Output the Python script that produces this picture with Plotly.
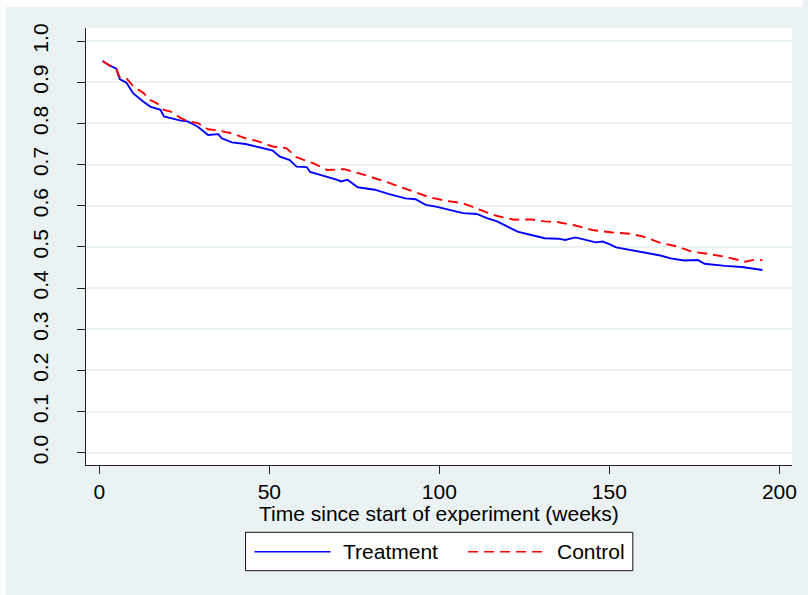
import plotly.graph_objects as go

# Weekly survival proportions by arm
weeks_treatment = [1, 3, 5, 6, 8, 10, 13, 15, 18, 19, 21, 24, 26, 29, 32, 35, 36, 39, 43, 47,
                   51, 53, 56, 58, 61, 62, 65, 70, 71, 73, 76, 81, 85, 90, 93, 96, 99, 103,
                   107, 111, 114, 117, 120, 123, 127, 131, 135, 137, 140, 143, 146, 148, 150,
                   152, 156, 160, 165, 168, 172, 176, 178, 184, 189, 195]
surv_treatment = [0.952, 0.941, 0.933, 0.908, 0.899, 0.873, 0.853, 0.841, 0.833, 0.817, 0.813,
                  0.807, 0.805, 0.792, 0.772, 0.774, 0.764, 0.754, 0.750, 0.742, 0.734, 0.720,
                  0.711, 0.695, 0.694, 0.682, 0.675, 0.663, 0.659, 0.663, 0.645, 0.639, 0.629,
                  0.618, 0.616, 0.602, 0.598, 0.590, 0.582, 0.580, 0.570, 0.562, 0.549, 0.537,
                  0.529, 0.521, 0.520, 0.517, 0.523, 0.517, 0.511, 0.513, 0.507, 0.499, 0.493,
                  0.486, 0.479, 0.472, 0.467, 0.468, 0.459, 0.454, 0.451, 0.444]

weeks_control = [1, 3, 5, 6, 8, 10, 13, 15, 17, 19, 21, 24, 26, 29, 32, 35, 39, 43, 47, 51,
                 55, 58, 63, 67, 72, 78, 84, 88, 93, 97, 102, 107, 112, 117, 122, 127, 131,
                 135, 140, 145, 151, 156, 160, 165, 170, 174, 179, 184, 190, 192, 195]
surv_control = [0.952, 0.941, 0.933, 0.912, 0.910, 0.890, 0.874, 0.857, 0.849, 0.833, 0.829,
                0.813, 0.805, 0.801, 0.786, 0.783, 0.776, 0.764, 0.756, 0.744, 0.740, 0.718,
                0.703, 0.687, 0.689, 0.675, 0.659, 0.647, 0.632, 0.621, 0.612, 0.606, 0.590,
                0.575, 0.566, 0.567, 0.562, 0.560, 0.552, 0.541, 0.535, 0.532, 0.525, 0.510,
                0.501, 0.489, 0.483, 0.476, 0.464, 0.468, 0.468]

x_ticks = [0, 50, 100, 150, 200]
y_ticks = [0.0, 0.1, 0.2, 0.3, 0.4, 0.5, 0.6, 0.7, 0.8, 0.9, 1.0]
y_tick_labels = [f"{v:.1f}" for v in y_ticks]
series_names = ["Treatment", "Control"]
series_colors = ["#0000FF", "#FF0000"]
x_title = "Time since start of experiment (weeks)"

BG = "#EAF2F3"
FONT = "Liberation Sans, Arial, sans-serif"
FS = 21

fig = go.Figure()
fig.add_trace(go.Scatter(x=weeks_treatment, y=surv_treatment, mode="lines",
                         name=series_names[0],
                         line=dict(color=series_colors[0], width=1.9)))
fig.add_trace(go.Scatter(x=weeks_control, y=surv_control, mode="lines",
                         name=series_names[1],
                         line=dict(color=series_colors[1], width=1.9, dash="10px,6px")))

W, H = 808, 595
L, R, T, B = 86, 11, 28, 130
pw, ph = W - L - R, H - T - B


def px_x(px):
    return (px - L) / pw


def px_y(py):
    return (H - B - py) / ph


shapes = [
    # thin white frame at top and left edges of the page
    dict(type="rect", xref="paper", yref="paper", x0=px_x(0), x1=px_x(W), y0=px_y(7), y1=px_y(0),
         fillcolor="white", line=dict(width=0), layer="below"),
    dict(type="rect", xref="paper", yref="paper", x0=px_x(0), x1=px_x(5), y0=px_y(H), y1=px_y(0),
         fillcolor="white", line=dict(width=0), layer="below"),
    # legend box
    dict(type="rect", xref="paper", yref="paper", x0=px_x(246.7), x1=px_x(636.7),
         y0=px_y(570.7), y1=px_y(532.3), fillcolor="white",
         line=dict(color="#111111", width=1)),
    dict(type="line", xref="paper", yref="paper", x0=px_x(255.7), x1=px_x(332.3),
         y0=px_y(551.7), y1=px_y(551.7), line=dict(color=series_colors[0], width=1.4)),
    dict(type="line", xref="paper", yref="paper", x0=px_x(470.7), x1=px_x(548.3),
         y0=px_y(551.7), y1=px_y(551.7), line=dict(color=series_colors[1], width=1.4, dash="10px,6px")),
]

annotations = [
    dict(text=series_names[0], xref="paper", yref="paper", x=px_x(343), y=px_y(551.5),
         xanchor="left", yanchor="middle", showarrow=False,
         font=dict(family=FONT, size=FS, color="black")),
    dict(text=series_names[1], xref="paper", yref="paper", x=px_x(558), y=px_y(551.5),
         xanchor="left", yanchor="middle", showarrow=False,
         font=dict(family=FONT, size=FS, color="black")),
    # x-axis title, set tight under the tick labels
    dict(text=x_title, xref="paper", yref="paper", x=0.5, y=px_y(513),
         xanchor="center", yanchor="middle", showarrow=False,
         font=dict(family=FONT, size=FS, color="black")),
]

fig.update_layout(
    width=W, height=H,
    margin=dict(l=L, r=R, t=T, b=B, pad=0),
    paper_bgcolor=BG,
    plot_bgcolor="white",
    showlegend=False,
    font=dict(family=FONT, size=FS, color="black"),
    shapes=shapes,
    annotations=annotations,
    xaxis=dict(
        range=[-3.9, 203.7], tickvals=x_ticks, ticks="outside", ticklen=8,
        tickcolor="#222222", tickwidth=1, showline=True, linecolor="#222222",
        linewidth=1, showgrid=False, zeroline=False,
        tickfont=dict(family=FONT, size=FS, color="black"),
    ),
    yaxis=dict(
        range=[-0.030, 1.032], tickvals=y_ticks, ticktext=y_tick_labels, tickangle=-90,
        ticks="outside", ticklen=8, tickcolor="#222222", tickwidth=1,
        showline=True, linecolor="#222222", linewidth=1,
        showgrid=True, gridcolor=BG, gridwidth=1.6, zeroline=False,
        tickfont=dict(family=FONT, size=FS, color="black"),
        ticklabelstandoff=21,
    ),
)

fig.write_html("out.html")
